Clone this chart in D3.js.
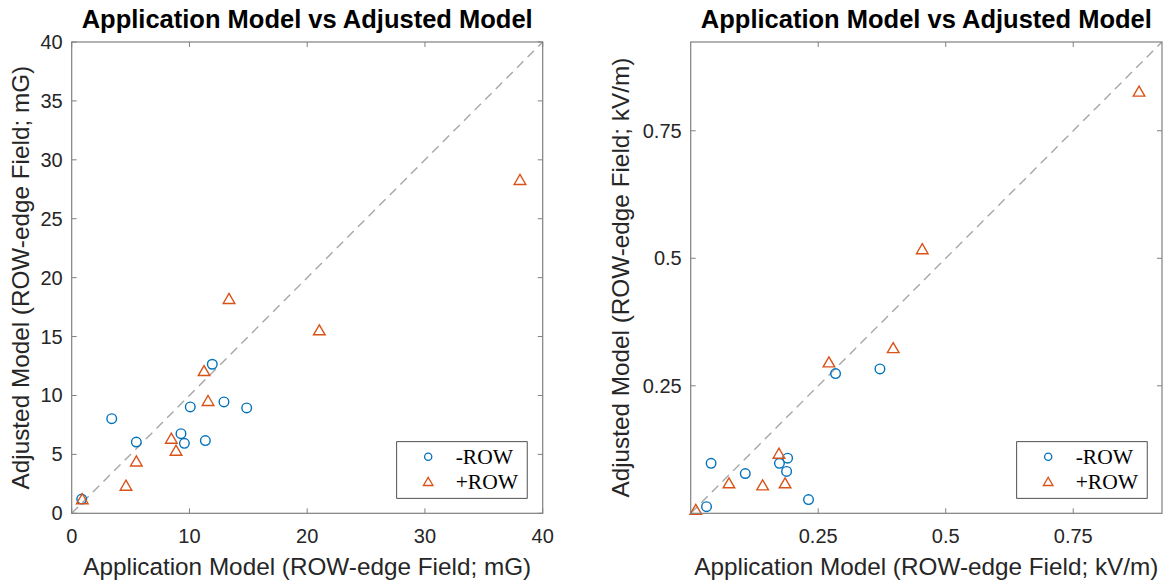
<!DOCTYPE html>
<html>
<head>
<meta charset="utf-8">
<script src="https://cdn.jsdelivr.net/npm/d3@7"></script>
<style>
  html, body { margin: 0; padding: 0; background: #fff; }
  svg { display: block; }
</style>
</head>
<body>
<svg id="chart" width="1168" height="585"></svg>
<script>
// ---------- data ----------
const titleText = "Application Model vs Adjusted Model";
const seriesNames = ["-ROW", "+ROW"];

// Left panel (magnetic field, mG)
const leftMinusX = [0.85, 3.40, 5.49, 9.28, 9.57, 10.07, 11.35, 11.94, 12.93, 14.86];
const leftMinusY = [1.21, 8.03, 6.05, 6.76, 5.94, 9.03, 6.17, 12.65, 9.45, 8.94];
const leftPlusX  = [0.90, 4.61, 5.49, 8.46, 8.86, 11.24, 11.58, 13.36, 21.03, 38.07];
const leftPlusY  = [1.20, 2.35, 4.41, 6.34, 5.32, 12.08, 9.54, 18.20, 15.54, 28.30];
const leftXTicks = [0, 10, 20, 30, 40];
const leftYTicks = [0, 5, 10, 15, 20, 25, 30, 35, 40];
const leftXTickLabels = ["0", "10", "20", "30", "40"];
const leftYTickLabels = ["0", "5", "10", "15", "20", "25", "30", "35", "40"];
const leftDomain = [0, 40];
const leftXLabel = "Application Model (ROW-edge Field; mG)";
const leftYLabel = "Adjusted Model (ROW-edge Field; mG)";

// Right panel (electric field, kV/m)
const rightMinusX = [0.031, 0.040, 0.107, 0.174, 0.190, 0.188, 0.231, 0.284, 0.371];
const rightMinusY = [0.013, 0.098, 0.078, 0.098, 0.108, 0.082, 0.027, 0.274, 0.283];
const rightPlusX  = [0.010, 0.075, 0.141, 0.185, 0.173, 0.271, 0.397, 0.454, 0.879];
const rightPlusY  = [0.007, 0.059, 0.055, 0.059, 0.117, 0.296, 0.324, 0.518, 0.827];
const rightXTicks = [0.25, 0.5, 0.75];
const rightYTicks = [0.25, 0.5, 0.75];
const rightXTickLabels = ["0.25", "0.5", "0.75"];
const rightYTickLabels = ["0.25", "0.5", "0.75"];
const rightDomain = [0, 0.924];
const rightXLabel = "Application Model (ROW-edge Field; kV/m)";
const rightYLabel = "Adjusted Model (ROW-edge Field; kV/m)";

// ---------- styles ----------
const BLUE = "#0072BD", ORANGE = "#D95319";
const AXIS_COLOR = "#808080";
const TEXT_COLOR = "#262626";
const SANS = "'Liberation Sans', Arial, Helvetica, sans-serif";
const SERIF = "'Liberation Serif', 'Times New Roman', serif";

const svg = d3.select("#chart");

const triPath = "M0,-5.4 L5.8,4.6 L-5.8,4.6 Z";
const triPathSmall = "M0,-4.4 L4.8,3.8 L-4.8,3.8 Z";

function drawPanel(cfg) {
  const g = svg.append("g");
  const x = d3.scaleLinear().domain(cfg.domain).range([cfg.left, cfg.right]);
  const y = d3.scaleLinear().domain(cfg.domain).range([cfg.bottom, cfg.top]);

  // ticks (inward, box on all sides)
  const tl = 5;
  const tickG = g.append("g").attr("stroke", AXIS_COLOR).attr("stroke-width", 1);
  cfg.xTicks.forEach(t => {
    tickG.append("line").attr("x1", x(t)).attr("x2", x(t)).attr("y1", cfg.bottom).attr("y2", cfg.bottom - tl);
    tickG.append("line").attr("x1", x(t)).attr("x2", x(t)).attr("y1", cfg.top).attr("y2", cfg.top + tl);
  });
  cfg.yTicks.forEach(t => {
    tickG.append("line").attr("y1", y(t)).attr("y2", y(t)).attr("x1", cfg.left).attr("x2", cfg.left + tl);
    tickG.append("line").attr("y1", y(t)).attr("y2", y(t)).attr("x1", cfg.right).attr("x2", cfg.right - tl);
  });

  // tick labels
  g.append("g").selectAll("text").data(cfg.xTicks).join("text")
    .attr("x", d => x(d)).attr("y", cfg.bottom + 30)
    .attr("text-anchor", "middle")
    .attr("font-family", SANS).attr("font-size", 20).attr("fill", TEXT_COLOR)
    .text((d, i) => cfg.xTickLabels[i]);
  g.append("g").selectAll("text").data(cfg.yTicks).join("text")
    .attr("x", cfg.left - 9).attr("y", d => y(d)).attr("dy", "0.35em")
    .attr("text-anchor", "end")
    .attr("font-family", SANS).attr("font-size", 20).attr("fill", TEXT_COLOR)
    .text((d, i) => cfg.yTickLabels[i]);

  // diagonal reference line
  g.append("line")
    .attr("x1", x(cfg.domain[0])).attr("y1", y(cfg.domain[0]))
    .attr("x2", x(cfg.domain[1])).attr("y2", y(cfg.domain[1]))
    .attr("stroke", "#a6a6a6").attr("stroke-width", 1.4)
    .attr("stroke-dasharray", "9,6");

  // points
  const minus = cfg.minusX.map((v, i) => ({ x: v, y: cfg.minusY[i] }));
  const plus = cfg.plusX.map((v, i) => ({ x: v, y: cfg.plusY[i] }));
  g.append("g").selectAll("circle").data(minus).join("circle")
    .attr("cx", d => x(d.x)).attr("cy", d => y(d.y)).attr("r", 4.8)
    .attr("fill", "none").attr("stroke", BLUE).attr("stroke-width", 1.4);
  g.append("g").selectAll("path").data(plus).join("path")
    .attr("transform", d => `translate(${x(d.x)},${y(d.y)})`)
    .attr("d", triPath)
    .attr("fill", "none").attr("stroke", ORANGE).attr("stroke-width", 1.4);

  // box
  g.append("rect")
    .attr("x", cfg.left).attr("y", cfg.top)
    .attr("width", cfg.right - cfg.left).attr("height", cfg.bottom - cfg.top)
    .attr("fill", "none").attr("stroke", AXIS_COLOR).attr("stroke-width", 1.2);

  // title
  g.append("text")
    .attr("x", (cfg.left + cfg.right) / 2).attr("y", 27.5)
    .attr("text-anchor", "middle")
    .attr("font-family", SANS).attr("font-weight", "bold").attr("font-size", 25.5)
    .attr("fill", "#000")
    .text(titleText);

  // axis labels
  g.append("text")
    .attr("x", (cfg.left + cfg.right) / 2).attr("y", 575)
    .attr("text-anchor", "middle")
    .attr("font-family", SANS).attr("font-size", 24.3).attr("fill", TEXT_COLOR)
    .text(cfg.xLabel);
  g.append("text")
    .attr("transform", `translate(${cfg.yLabelX},${(cfg.top + cfg.bottom) / 2}) rotate(-90)`)
    .attr("text-anchor", "middle")
    .attr("font-family", SANS).attr("font-size", 24.3).attr("fill", TEXT_COLOR)
    .text(cfg.yLabel);

  // legend
  const lg = g.append("g").attr("transform", `translate(${cfg.legendX},441.7)`);
  lg.append("rect").attr("x", 0).attr("y", 0).attr("width", 130.5).attr("height", 56.6)
    .attr("fill", "#fff").attr("stroke", TEXT_COLOR).attr("stroke-width", 0.8);
  lg.append("circle").attr("cx", 31.5).attr("cy", 15).attr("r", 3.6)
    .attr("fill", "none").attr("stroke", BLUE).attr("stroke-width", 1.3);
  lg.append("path").attr("transform", "translate(31.5,40)").attr("d", triPathSmall)
    .attr("fill", "none").attr("stroke", ORANGE).attr("stroke-width", 1.3);
  lg.selectAll("text.leg").data(seriesNames).join("text")
    .attr("class", "leg")
    .attr("x", 59).attr("y", (d, i) => 22 + i * 25)
    .attr("font-family", SERIF).attr("font-size", 21.5).attr("fill", "#000")
    .text(d => d);
}

drawPanel({
  left: 71.7, right: 542.7, top: 42, bottom: 513.3,
  domain: leftDomain,
  xTicks: leftXTicks, yTicks: leftYTicks,
  xTickLabels: leftXTickLabels, yTickLabels: leftYTickLabels,
  minusX: leftMinusX, minusY: leftMinusY, plusX: leftPlusX, plusY: leftPlusY,
  xLabel: leftXLabel, yLabel: leftYLabel,
  yLabelX: 29, legendX: 396.7
});

drawPanel({
  left: 690.7, right: 1162, top: 42, bottom: 513.3,
  domain: rightDomain,
  xTicks: rightXTicks, yTicks: rightYTicks,
  xTickLabels: rightXTickLabels, yTickLabels: rightYTickLabels,
  minusX: rightMinusX, minusY: rightMinusY, plusX: rightPlusX, plusY: rightPlusY,
  xLabel: rightXLabel, yLabel: rightYLabel,
  yLabelX: 629, legendX: 1016.7
});
</script>
</body>
</html>
